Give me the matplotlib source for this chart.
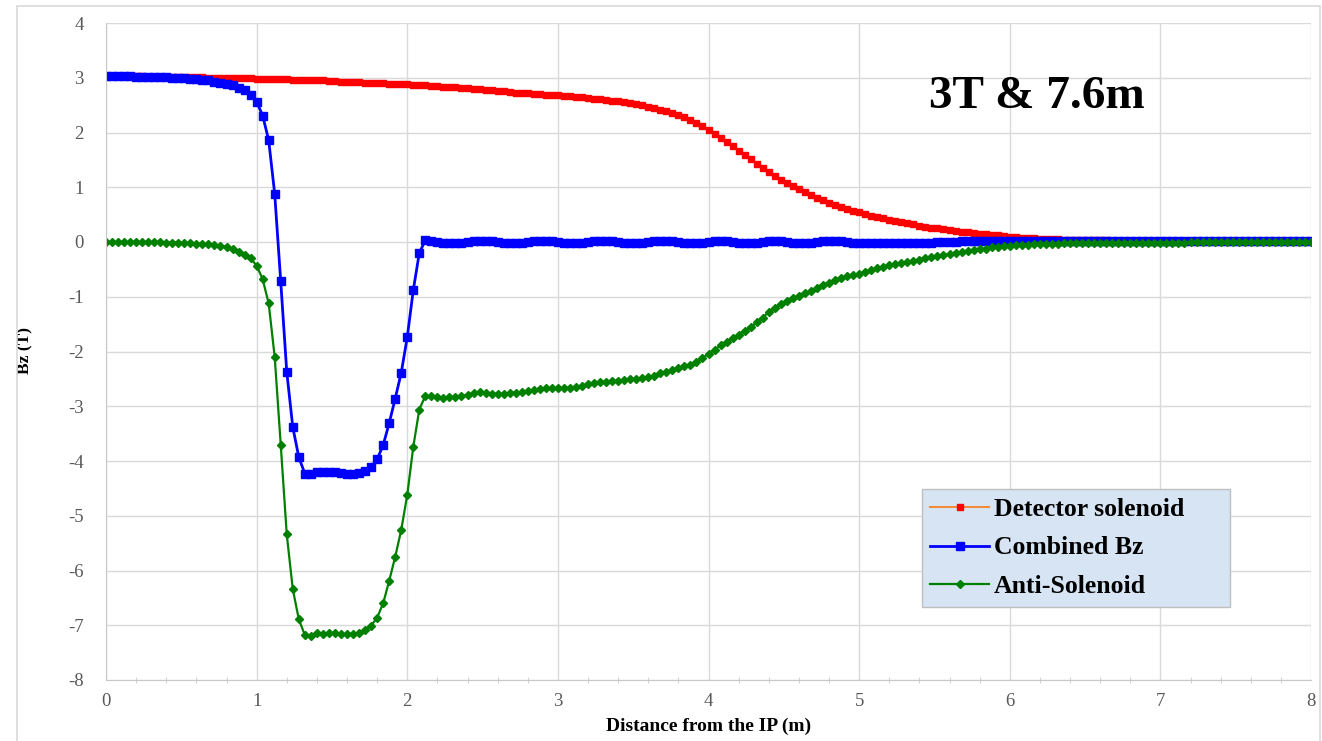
import matplotlib.pyplot as plt
import matplotlib.patches as mpatches
import numpy as np

# ---- field profiles along z, sampled every 4 cm ----
z = np.round(np.arange(0, 8.0001, 0.04), 2)

detector = [
    3.03, 3.03, 3.03, 3.03, 3.03, 3.03, 3.03, 3.02, 3.02, 3.02,
    3.02, 3.02, 3.02, 3.01, 3.01, 3.01, 3.01, 3.00, 3.00, 3.00,
    3.00, 2.99, 2.99, 2.99, 2.99, 2.98, 2.98, 2.98, 2.97, 2.97,
    2.97, 2.96, 2.96, 2.96, 2.95, 2.95, 2.95, 2.94, 2.94, 2.93,
    2.93, 2.92, 2.92, 2.91, 2.91, 2.90, 2.90, 2.89, 2.89, 2.88,
    2.88, 2.87, 2.87, 2.86, 2.85, 2.85, 2.84, 2.83, 2.83, 2.82,
    2.81, 2.80, 2.79, 2.78, 2.77, 2.76, 2.75, 2.74, 2.73, 2.72,
    2.72, 2.71, 2.70, 2.69, 2.68, 2.68, 2.67, 2.66, 2.65, 2.64,
    2.63, 2.62, 2.61, 2.60, 2.58, 2.57, 2.56, 2.54, 2.52, 2.50,
    2.47, 2.45, 2.42, 2.39, 2.36, 2.32, 2.28, 2.23, 2.18, 2.12,
    2.04, 1.97, 1.90, 1.82, 1.75, 1.67, 1.59, 1.51, 1.43, 1.36,
    1.28, 1.21, 1.14, 1.08, 1.02, 0.96, 0.91, 0.86, 0.81, 0.76,
    0.72, 0.68, 0.64, 0.61, 0.57, 0.54, 0.51, 0.48, 0.45, 0.43,
    0.40, 0.38, 0.36, 0.34, 0.32, 0.30, 0.28, 0.26, 0.25, 0.23,
    0.22, 0.20, 0.19, 0.18, 0.16, 0.15, 0.14, 0.13, 0.12, 0.11,
    0.10, 0.09, 0.08, 0.08, 0.07, 0.06, 0.06, 0.05, 0.05, 0.04,
    0.04, 0.04, 0.03, 0.03, 0.03, 0.03, 0.03, 0.02, 0.02, 0.02,
    0.02, 0.02, 0.02, 0.02, 0.02, 0.02, 0.02, 0.02, 0.02, 0.02,
    0.02, 0.02, 0.02, 0.02, 0.02, 0.02, 0.02, 0.02, 0.02, 0.02,
    0.02, 0.02, 0.02, 0.02, 0.02, 0.02, 0.02, 0.02, 0.02, 0.02,
    0.02,
]

combined = [
    3.03, 3.03, 3.03, 3.03, 3.03, 3.02, 3.02, 3.02, 3.02, 3.01,
    3.01, 3.00, 3.00, 2.99, 2.98, 2.97, 2.96, 2.95, 2.93, 2.91,
    2.89, 2.86, 2.82, 2.78, 2.68, 2.56, 2.31, 1.86, 0.88, -0.72,
    -2.37, -3.38, -3.93, -4.23, -4.24, -4.20, -4.21, -4.21, -4.21, -4.22,
    -4.23, -4.23, -4.22, -4.18, -4.11, -3.97, -3.71, -3.31, -2.86, -2.39,
    -1.74, -0.88, -0.20, 0.03, 0.02, 0.00, -0.01, -0.02, -0.02, -0.01,
    0.00, 0.01, 0.02, 0.02, 0.01, 0.00, -0.01, -0.02, -0.02, -0.01,
    0.00, 0.01, 0.02, 0.02, 0.01, 0.00, -0.01, -0.02, -0.02, -0.01,
    0.00, 0.01, 0.02, 0.02, 0.01, 0.00, -0.01, -0.02, -0.02, -0.01,
    0.00, 0.01, 0.02, 0.02, 0.01, 0.00, -0.01, -0.02, -0.02, -0.01,
    0.00, 0.02, 0.02, 0.01, 0.00, -0.01, -0.02, -0.02, -0.01, 0.00,
    0.02, 0.02, 0.01, 0.00, -0.01, -0.02, -0.02, -0.01, 0.00, 0.01,
    0.02, 0.02, 0.01, 0.00, -0.01, -0.02, -0.02, -0.02, -0.01, -0.01,
    -0.01, -0.01, -0.01, -0.01, -0.01, -0.01, -0.01, -0.01, 0.00, 0.00,
    0.00, 0.00, 0.01, 0.01, 0.01, 0.01, 0.01, 0.01, 0.01, 0.01,
    0.01, 0.01, 0.01, 0.01, 0.01, 0.01, 0.01, 0.01, 0.01, 0.01,
    0.01, 0.01, 0.01, 0.01, 0.01, 0.01, 0.01, 0.01, 0.01, 0.01,
    0.02, 0.02, 0.02, 0.02, 0.02, 0.02, 0.02, 0.02, 0.02, 0.02,
    0.02, 0.02, 0.02, 0.02, 0.02, 0.02, 0.02, 0.02, 0.02, 0.02,
    0.02, 0.02, 0.02, 0.02, 0.02, 0.02, 0.02, 0.02, 0.02, 0.02,
    0.02,
]

anti = [
    0.00, 0.00, 0.00, 0.00, 0.00, 0.00, 0.00, 0.00, 0.00, 0.00,
    -0.01, -0.01, -0.01, -0.02, -0.02, -0.03, -0.03, -0.04, -0.05, -0.07,
    -0.09, -0.13, -0.18, -0.23, -0.30, -0.43, -0.68, -1.12, -2.10, -3.70,
    -5.34, -6.34, -6.89, -7.18, -7.20, -7.14, -7.16, -7.15, -7.15, -7.16,
    -7.16, -7.16, -7.15, -7.09, -7.01, -6.86, -6.60, -6.19, -5.75, -5.26,
    -4.62, -3.74, -3.06, -2.81, -2.82, -2.84, -2.85, -2.84, -2.83, -2.81,
    -2.79, -2.76, -2.74, -2.75, -2.77, -2.78, -2.78, -2.76, -2.75, -2.74,
    -2.72, -2.70, -2.68, -2.67, -2.67, -2.67, -2.67, -2.66, -2.65, -2.63,
    -2.60, -2.57, -2.55, -2.55, -2.54, -2.53, -2.52, -2.51, -2.50, -2.49,
    -2.47, -2.44, -2.40, -2.37, -2.34, -2.31, -2.27, -2.24, -2.19, -2.12,
    -2.04, -1.97, -1.89, -1.83, -1.76, -1.69, -1.62, -1.56, -1.47, -1.38,
    -1.28, -1.20, -1.14, -1.08, -1.03, -0.99, -0.94, -0.89, -0.84, -0.79,
    -0.74, -0.69, -0.66, -0.63, -0.60, -0.58, -0.55, -0.52, -0.48, -0.45,
    -0.42, -0.40, -0.38, -0.36, -0.34, -0.32, -0.30, -0.28, -0.26, -0.24,
    -0.22, -0.20, -0.18, -0.16, -0.15, -0.13, -0.12, -0.10, -0.09, -0.08,
    -0.07, -0.06, -0.05, -0.05, -0.04, -0.04, -0.03, -0.03, -0.03, -0.02,
    -0.02, -0.02, -0.02, -0.02, -0.02, -0.02, -0.02, -0.02, -0.02, -0.02,
    -0.01, -0.01, -0.01, -0.01, -0.01, -0.01, -0.01, -0.01, -0.01, -0.01,
    0.00, 0.00, 0.00, 0.00, 0.00, 0.00, 0.00, 0.00, 0.00, 0.00,
    0.00, 0.00, 0.00, 0.00, 0.00, 0.00, 0.00, 0.00, 0.00, 0.00,
    0.00,
]

plt.rcParams['axes.unicode_minus'] = False
serif = ['Liberation Serif', 'DejaVu Serif']
grid_col = '#d9d9d9'
W, H = 1322, 741

fig = plt.figure(figsize=(W / 100, H / 100), dpi=100, facecolor='white')
ax = fig.add_axes([106 / W, 1 - 680 / H, (1311 - 106) / W, (680 - 23) / H])

# outer chart frame
fig.patches.append(mpatches.Rectangle((17 / W, -0.01), (1320 - 17) / W, 1.01 - 6 / H,
                                      transform=fig.transFigure, fill=False,
                                      edgecolor=grid_col, linewidth=1.2, zorder=0))

ax.plot(z, detector, color='#f28c3c', lw=1.5, marker='s', ms=4.2,
        mfc='#ff0000', mec='#ff0000', label='Detector solenoid')
ax.plot(z, combined, color='#0000ff', lw=2, marker='s', ms=5.5,
        mfc='#0000ff', mec='#0000ff', label='Combined Bz')
ax.plot(z, anti, color='#008000', lw=1.6, marker='D', ms=3.6,
        mfc='#008000', mec='#008000', label='Anti-Solenoid')

ax.set_xlim(0, 8)
ax.set_ylim(-8, 4)
ax.set_xticks(range(0, 9))
ax.set_yticks(range(-8, 5))
ax.set_xticks(np.arange(0, 8.01, 0.2), minor=True)
ax.grid(True, which='major', color=grid_col, lw=1)
ax.set_axisbelow(True)
for s in ['top', 'right']:
    ax.spines[s].set_visible(False)
for s in ['left', 'bottom']:
    ax.spines[s].set_color('#c8c8c8')
ax.tick_params(axis='both', which='major', length=0, labelsize=13.5, labelcolor='#595959')
ax.tick_params(axis='y', pad=16)
ax.tick_params(axis='x', pad=9)
ax.tick_params(axis='x', which='minor', length=4, direction='inout', color='#c8c8c8')
for lab in ax.get_xticklabels() + ax.get_yticklabels():
    lab.set_family(serif)

ax.set_xlabel('Distance from the IP (m)', family=serif, fontweight='bold', fontsize=14, labelpad=6)
ax.set_ylabel('Bz (T)', family=serif, fontweight='bold', fontsize=12.5)
ax.yaxis.set_label_coords((33 - 106) / (1311 - 106), (680 - 351) / (680 - 23))

fig.text(1037 / W, 1 - 97 / H, '3T & 7.6m', family=serif, fontweight='bold',
         fontsize=34, ha='center', va='center')

# legend panel
panel = mpatches.Rectangle((922 / W, 1 - 607 / H), (1230 - 922) / W, (607 - 489) / H,
                           transform=fig.transFigure, facecolor='#d6e4f3',
                           edgecolor='#bfbfbf', linewidth=1, zorder=5, clip_on=False)
ax.add_patch(panel)
leg = ax.legend(loc='center left', bbox_to_anchor=(930 / W, 1 - 548 / H),
                bbox_transform=fig.transFigure,
                prop={'family': serif, 'weight': 'bold', 'size': 18.5},
                frameon=False, handlelength=2.3, handletextpad=0.2,
                labelspacing=0.62, borderpad=0, borderaxespad=0)
leg.set_zorder(6)

fig.savefig('out.png', dpi=100, facecolor='white')
